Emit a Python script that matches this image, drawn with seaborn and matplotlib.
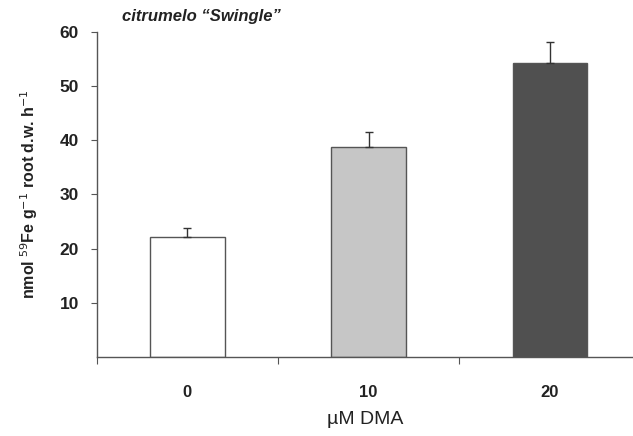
import matplotlib
matplotlib.use('Agg')
import matplotlib.pyplot as plt
import seaborn as sns
import pandas as pd

# Значення з графіка
dma = ['0', '10', '20']
uptake = [22.2, 38.8, 54.2]
err = [1.6, 2.8, 3.9]
colors = ['#ffffff', '#c6c6c6', '#505050']

df = pd.DataFrame({'DMA': dma, 'Uptake': uptake})

sns.set_style('ticks')
plt.rcParams['font.family'] = ['Liberation Sans', 'DejaVu Sans']

fig = plt.figure(figsize=(6.33, 4.36), dpi=100)
ax = fig.add_axes([0.153, 0.181, 0.847, 0.746])

sns.barplot(x='DMA', y='Uptake', data=df, hue='DMA', palette=colors, legend=False,
            width=0.41, edgecolor='#555555', linewidth=1.0, ax=ax)
ax.errorbar(range(len(dma)), uptake, yerr=[[0] * len(err), err], fmt='none',
            ecolor='#333333', elinewidth=1.0, capsize=3, capthick=1.0)

ax.set_ylim(0, 60)
ax.set_xlim(-0.5, 2.46)
ax.set_yticks([10, 20, 30, 40, 50, 60])
ax.set_xticks([-0.5, 0.5, 1.5], minor=False)
ax.set_xticklabels(['', '', ''])
ax.set_xticks([0, 1, 2], minor=True)
ax.set_xticklabels(dma, minor=True, fontsize=12, fontweight='bold', color='#222222')
ax.tick_params(axis='x', which='minor', length=0, pad=20)
ax.tick_params(axis='x', which='major', length=5, color='#555555', direction='out')
ax.tick_params(axis='y', length=4, color='#555555', labelsize=12.5, pad=9)
for t in ax.get_yticklabels():
    t.set_fontweight('bold')
    t.set_color('#222222')

sns.despine(ax=ax)
for s in ['left', 'bottom']:
    ax.spines[s].set_color('#555555')
    ax.spines[s].set_linewidth(1.0)

ax.set_xlabel('µM DMA', fontsize=14, color='#222222', labelpad=8)
ax.set_ylabel(r'nmol $^{59}$Fe g$^{-1}$ root d.w. h$^{-1}$', fontsize=11.5,
              fontweight='bold', color='#222222', labelpad=14)
fig.text(0.193, 0.962, 'citrumelo \u201cSwingle\u201d', fontsize=12, fontweight='bold',
         fontstyle='italic', color='#222222', va='center')

plt.savefig('out.png', dpi=100)
